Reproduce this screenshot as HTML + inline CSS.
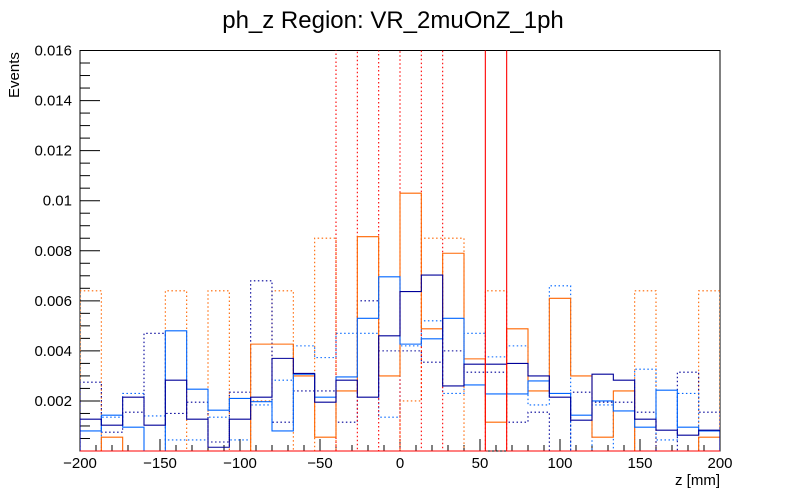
<!DOCTYPE html>
<html><head><meta charset="utf-8"><style>
body{margin:0;background:#fff;}
svg{display:block;font-family:"Liberation Sans",Arial,sans-serif;}
</style></head><body>
<svg id="chart" width="800" height="500" xmlns="http://www.w3.org/2000/svg">
<rect width="800" height="500" fill="#fff"/>
<text x="393" y="28" text-anchor="middle" font-size="24" fill="#000">ph_z Region: VR_2muOnZ_1ph</text>
<text transform="translate(19,98) rotate(-90)" font-size="15" fill="#000">Events</text>
<text x="720" y="485" text-anchor="end" font-size="15" fill="#000">z [mm]</text>
<defs><clipPath id="fr"><rect x="80" y="50.5" width="640" height="401"/></clipPath></defs>
<g id="axes"></g>
<g id="hists" clip-path="url(#fr)"></g>
</svg>
<script>
const xEdgesMin = -200, xEdgesMax = 200, nBins = 30;
const yTicks = [0.002,0.004,0.006,0.008,0.01,0.012,0.014,0.016];
const yTickLabels = ["0.002","0.004","0.006","0.008","0.01","0.012","0.014","0.016"];
const xTicks = [-200,-150,-100,-50,0,50,100,150,200];
const xTickLabels = ["\u2212200","\u2212150","\u2212100","\u221250","0","50","100","150","200"];
const orangeSolid = [0,0.00055,0,0,0,0,0,0,0.00427,0.00427,0.003,0.00055,0.0024,0.00856,0.003,0.0103,0.00488,0.0079,0.00368,0.00115,0.00488,0.0024,0.0061,0.003,0.00055,0.0024,0,0,0,0.00055];
const navySolid = [0.00127,0.00103,0.00215,0.00103,0.00283,0.00127,0.00015,0.00127,0.00215,0.0037,0.0031,0.00195,0.00283,0.00215,0.0046,0.00637,0.00703,0.0026,0.00347,0.00347,0.0035,0.003,0.00215,0.00123,0.00307,0.00283,0.00127,0.00083,0.00063,0.00083];
const azureSolid = [0.0008,0.00143,0.00095,0,0.0048,0.00247,0.00163,0.0021,0.00197,0.0008,0.00307,0.00215,0.00296,0.0053,0.00696,0.00427,0.00448,0.0053,0.00264,0.00228,0.00228,0.0028,0.0023,0.00143,0.002,0.0016,0.00095,0.00243,0.00095,0.0008];
const redSolid = [0,0,0,0,0,0,0,0,0,0,0,0,0,0,0,0,0,0,0,0.03,0,0,0,0,0,0,0,0,0,0];
const orangeDotted = [0.0064,0,0,0,0.0064,0,0.0064,0,0.002,0.0064,0,0.0085,0,0,0,0.002,0.0085,0.0085,0,0.0064,0,0,0,0,0,0,0.0064,0,0,0.0064];
const navyDotted = [0.00275,0.00075,0.00155,0.0047,0.0015,0.00195,0.00036,0.00235,0.0068,0.00115,0.0024,0.0024,0.00115,0.006,0.004,0.004,0.00355,0.004,0.00315,0.00315,0.00115,0.00155,0,0.00235,0.00195,0.00195,0.00155,0,0.00315,0.00155];
const azureDotted = [0,0.00135,0.0023,0.0014,0.00044,0.00044,0.00135,0.00044,0.00184,0.00283,0.0042,0.00373,0.0047,0.0047,0.00135,0.0042,0.0052,0.0023,0.0047,0.00376,0.0042,0.00184,0.0066,0,0.00184,0,0.00327,0.00044,0.0023,0];
const redDotted = [0,0,0,0,0,0,0,0,0,0,0,0,0.03,0,0.03,0,0.03,0,0,0,0,0,0,0,0,0,0,0,0,0];

const X0=80,X1=720,Y0=451,Y1=50.5;
const xs = v => X0 + (v - xEdgesMin)/(xEdgesMax - xEdgesMin)*(X1-X0);
const ys = v => Y0 - v/0.016*(Y0-Y1);
const NS="http://www.w3.org/2000/svg";
const hg=document.getElementById('hists'), ag=document.getElementById('axes');
function mk(tag,attrs,parent){const e=document.createElementNS(NS,tag);for(const k in attrs)e.setAttribute(k,attrs[k]);parent.appendChild(e);return e;}
const w=(xEdgesMax-xEdgesMin)/nBins;
function hist(vals,color,dash,name){
  let d="M"+xs(xEdgesMin)+","+ys(0);
  vals.forEach((v,i)=>{const a=xs(xEdgesMin+i*w),b=xs(xEdgesMin+(i+1)*w);d+=" L"+a+","+ys(v)+" L"+b+","+ys(v);});
  d+=" L"+xs(xEdgesMax)+","+ys(0);
  const p=mk('path',{d:d,fill:'none',stroke:color,'stroke-width':1.1},hg);
  if(dash)p.setAttribute('stroke-dasharray','1.5,2.5');
  
  
}
hist(orangeDotted,'#ff6600',true,'orange-dotted-series');
hist(navyDotted,'#000099',true,'navy-dotted-series');
hist(azureDotted,'#0066ff',true,'azure-dotted-series');
hist(redDotted,'#ff0000',true,'red-dotted-series');
hist(orangeSolid,'#ff6600',false,'orange-solid-series');
hist(azureSolid,'#0066ff',false,'azure-solid-series');
hist(navySolid,'#000099',false,'navy-solid-series');
hist(redSolid,'#ff0000',false,'red-solid-series');

const fr=mk('rect',{x:X0,y:Y1,width:X1-X0,height:Y0-Y1,fill:'none',stroke:'#000','stroke-width':1},ag);


for(let v=0.0005; v<=0.01601; v+=0.0005){
  const major=Math.abs(v/0.002-Math.round(v/0.002))<1e-6;
  const t=mk('line',{x1:X0,x2:X0+(major?20:10),y1:ys(v),y2:ys(v),stroke:'#000','stroke-width':1},ag);
  
  
}
yTicks.forEach((v,i)=>{
  const t=mk('text',{x:72,y:ys(v)+5,'text-anchor':'end','font-size':15,fill:'#000'},ag);
  t.textContent=yTickLabels[i];
  
  
});
for(let v=-190; v<200; v+=10){
  const major=v%50===0;
  const t=mk('line',{x1:xs(v),x2:xs(v),y1:Y0,y2:Y0-(major?12:6),stroke:'#000','stroke-width':1},ag);
  
  
}
xTicks.forEach((v,i)=>{
  const t=mk('text',{x:xs(v),y:468,'text-anchor':'middle','font-size':15,fill:'#000'},ag);
  t.textContent=xTickLabels[i];
  
  
});
</script>
</body></html>
